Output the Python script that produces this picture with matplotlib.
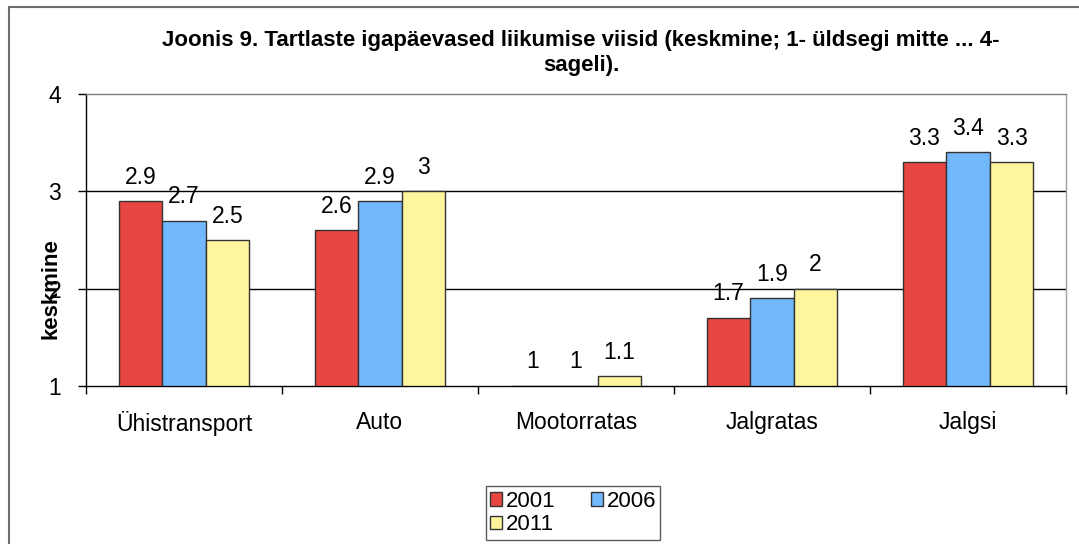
import numpy as np
import matplotlib.pyplot as plt
from matplotlib.patches import Rectangle

plt.rcParams['font.family'] = ['Liberation Sans', 'DejaVu Sans']

# data
categories = ['Ühistransport', 'Auto', 'Mootorratas', 'Jalgratas', 'Jalgsi']
years = ['2001', '2006', '2011']
v2001 = [2.9, 2.6, 1.0, 1.7, 3.3]
v2006 = [2.7, 2.9, 1.0, 1.9, 3.4]
v2011 = [2.5, 3.0, 1.1, 2.0, 3.3]
colors = ['#E84641', '#72B8FC', '#FFF59C']

fig = plt.figure(figsize=(10.79, 5.44), dpi=100)
ax = fig.add_axes([86 / 1079, 1 - 386 / 544, 980 / 1079, 292 / 544])

# outer chart border
fig.add_artist(Rectangle((8.5 / 1079, -0.01), 1.1, 1 - 6.5 / 544 + 0.01,
                         transform=fig.transFigure, fill=False,
                         edgecolor='#6e6e6e', linewidth=1.5))

x = np.arange(len(categories))
w = 1 / 4.5
base = 1.0
bars = []
for i, (vals, c) in enumerate(zip([v2001, v2006, v2011], colors)):
    pos = x + (i - 1) * w
    heights = np.array(vals) - base
    b = ax.bar(pos, heights, width=w, bottom=base, color=c, edgecolor='#333333',
               linewidth=1, zorder=3, label=years[i])
    bars.append(b)
    for p, v in zip(pos, vals):
        ax.annotate(f'{v:g}', (p, v), xytext=(0, 9), textcoords='offset points',
                    ha='center', va='bottom', fontsize=16.5)

ax.set_xlim(-0.5, len(categories) - 0.5)
ax.set_ylim(1, 4)
ax.set_yticks([1, 2, 3, 4])
ax.set_yticklabels(['1', '2', '3', '4'], fontsize=16.5)
ax.tick_params(axis='y', direction='out', length=6, width=1, pad=12, color='black')

ax.set_xticks(x)
ax.set_xticklabels(categories, fontsize=16.5)
ax.tick_params(axis='x', which='major', length=0, pad=18)
ax.set_xticks(np.arange(len(categories) + 1) - 0.5, minor=True)
ax.tick_params(axis='x', which='minor', direction='out', length=6, width=1)

for yv in [2, 3]:
    ax.axhline(yv, color='black', linewidth=1, zorder=1)

ax.spines['left'].set_color('black')
ax.spines['bottom'].set_color('black')
ax.spines['top'].set_color('#808080')
ax.spines['right'].set_color('#a0a0a0')
for s in ax.spines.values():
    s.set_linewidth(1)

ax.set_ylabel('keskmine', fontsize=16, fontweight='bold', labelpad=0)
ax.yaxis.set_label_coords(-25 / 980, 0.335)

fig.text(581 / 1079, 1 - 53 / 544,
         'Joonis 9. Tartlaste igapäevased liikumise viisid (keskmine; 1- üldsegi mitte ... 4-\nsageli).',
         ha='center', va='center', fontsize=16, fontweight='bold', linespacing=1.3)

# row order: 2001, 2006 / 2011
order = [0, 2, 1]
leg = fig.legend([bars[k] for k in order], [years[k] for k in order],
                 loc='center', bbox_to_anchor=(573 / 1079, 1 - 513 / 544), ncol=2,
                 fontsize=16, frameon=True, fancybox=False, edgecolor='#333333',
                 handlelength=0.55, handleheight=0.55, handletextpad=0.15,
                 columnspacing=1.6, borderpad=0.2, labelspacing=0.1,
                 borderaxespad=0)
leg.get_frame().set_linewidth(1)

fig.savefig('out.png', dpi=100)
